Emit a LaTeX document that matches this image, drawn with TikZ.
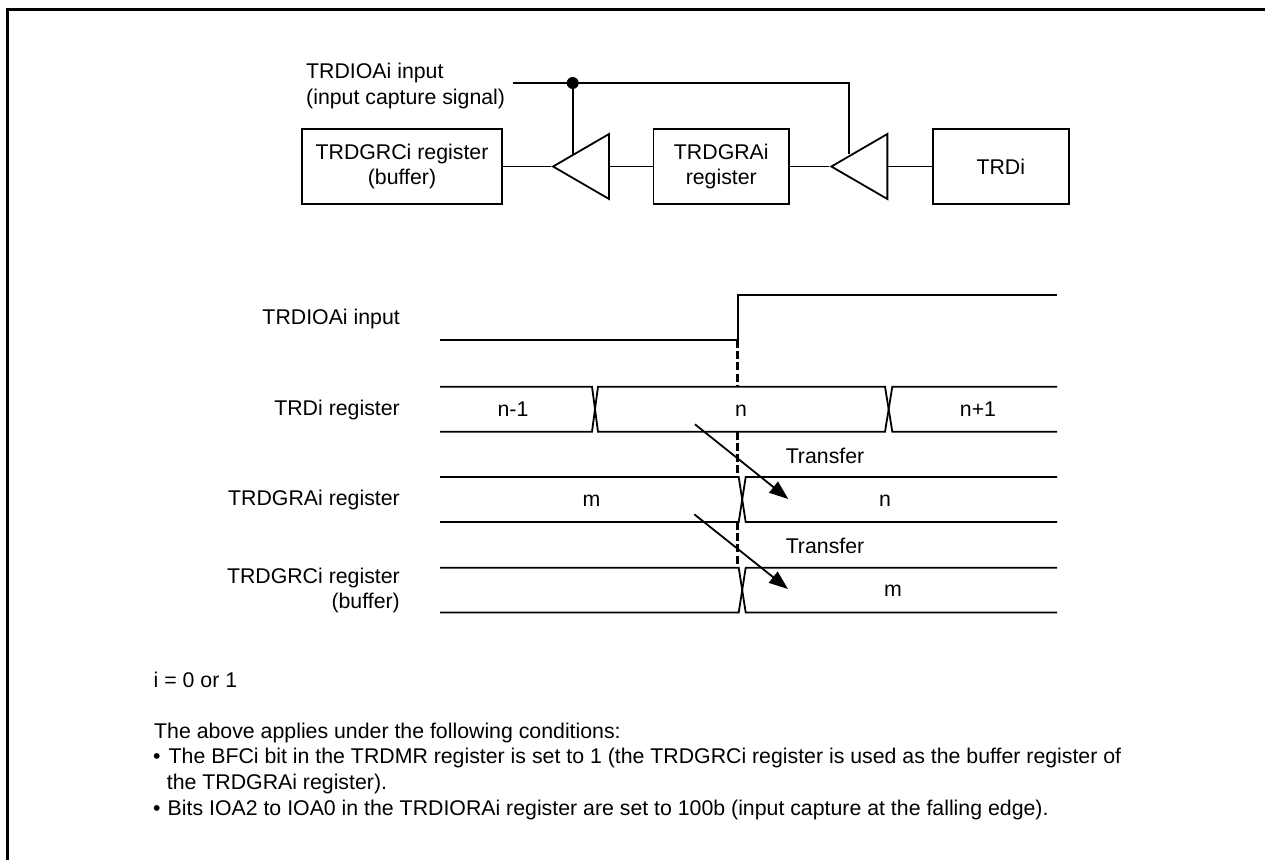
\documentclass[tikz,border=0pt]{standalone}
\usepackage{fontspec}
\setmainfont{Liberation Sans}
\usetikzlibrary{arrows.meta,shapes.geometric}
\tikzset{
  ln/.style={line width=1.8pt,line join=miter},
  regbox/.style={draw,line width=1.8pt,minimum height=75pt,inner sep=0pt,align=center,fill=white},
  buf/.style={draw,line width=1.8pt,fill=white,isosceles triangle,isosceles triangle stretches,shape border rotate=180,minimum width=65pt,minimum height=56pt,inner sep=0pt,anchor=apex},
  txt/.style={inner sep=0pt,anchor=base west},
  rtxt/.style={inner sep=0pt,anchor=base east,align=right},
  ctr/.style={inner sep=0pt,anchor=base},
  dsh/.style={line width=3pt,dash pattern=on 8pt off 3.2pt},
  xfer/.style={line width=1.8pt,-{Triangle[length=19pt,width=14pt]}},
}
\begin{document}
\begin{tikzpicture}[x=1pt,y=-1pt,font=\fontsize{21.3pt}{25.5pt}\selectfont]
\useasboundingbox (0,0) rectangle (1265,860);
\coordinate (fa) at (7.5,860);
\coordinate (fb) at (7.5,9.5);
\coordinate (fc) at (1265,9.5);
\draw[line width=3pt,line join=miter] (fa) -- (fb) -- (fc);
% block diagram
\node[regbox,minimum width=200pt] (crc) at (402,166.5) {TRDGRCi register\\(buffer)};
\node[regbox,minimum width=135.5pt] (gra) at (721.3,166.5) {TRDGRAi\\register};
\node[regbox,minimum width=136pt] (trd) at (1000.8,166.5) {TRDi};
\node[buf] (t1) at (550.7,166.5) {};
\node[buf] (t2) at (829,166.5) {};
\draw[ln] (crc.east) -- (t1.apex);
\draw[ln] (t1.lower side) -- (gra.west);
\draw[ln] (gra.east) -- (t2.apex);
\draw[ln] (t2.lower side) -- (trd.west);
\node[txt] (inlab1) at (306,78.3) {TRDIOAi input};
\node[txt] (inlab2) at (306,104) {(input capture signal)};
\coordinate (ins) at (512.7,83);
\coordinate (inc) at (849.3,83);
\coordinate (t1in) at (572.7,153.5);
\coordinate (t2in) at (849.3,153.5);
\node[circle,fill=black,inner sep=0pt,minimum size=12pt] (dot) at (572.7,83) {};
\draw[ln] (ins) -- (inc) -- (t2in);
\draw[ln] (dot) -- (t1in);
% timing rows
\node[rtxt] (l1) at (400,324) {TRDIOAi input};
\node[rtxt] (l2) at (400,415.5) {TRDi register};
\node[rtxt] (l3) at (400,505.5) {TRDGRAi register};
\node[rtxt] (l4) at (400,583.3) {TRDGRCi register};
\node[rtxt] (l5) at (400,608.5) {(buffer)};
% TRDIOA wave
\coordinate (w0) at (440,340);
\coordinate (w1) at (737.7,340);
\coordinate (w2) at (737.7,294.7);
\coordinate (w3) at (1057,294.7);
\draw[ln] (w0) -- (w1) -- (w2) -- (w3);
% TRDi bus
\coordinate (a0) at (440,386.7); \coordinate (a1) at (592,386.7); \coordinate (a2) at (598,386.7);
\coordinate (a3) at (885,386.7); \coordinate (a4) at (892.3,386.7); \coordinate (a5) at (1057,386.7);
\coordinate (b0) at (440,431.7); \coordinate (b1) at (592,431.7); \coordinate (b2) at (598,431.7);
\coordinate (b3) at (885,431.7); \coordinate (b4) at (892.3,431.7); \coordinate (b5) at (1057,431.7);
\draw[ln] (a0) -- (a1) -- (b2) -- (b3) -- (a4) -- (a5);
\draw[ln] (b0) -- (b1) -- (a2) -- (a3) -- (b4) -- (b5);
% TRDGRA bus
\coordinate (c0) at (440,477); \coordinate (c1) at (738.7,477); \coordinate (c2) at (745.7,477); \coordinate (c3) at (1057,477);
\coordinate (d0) at (440,522); \coordinate (d1) at (738.7,522); \coordinate (d2) at (745.7,522); \coordinate (d3) at (1057,522);
\draw[ln] (c0) -- (c1) -- (d2) -- (d3);
\draw[ln] (d0) -- (d1) -- (c2) -- (c3);
% TRDGRC bus
\coordinate (e0) at (440,567.7); \coordinate (e1) at (738.7,567.7); \coordinate (e2) at (745.7,567.7); \coordinate (e3) at (1057,567.7);
\coordinate (f0) at (440,612.5); \coordinate (f1) at (738.7,612.5); \coordinate (f2) at (745.7,612.5); \coordinate (f3) at (1057,612.5);
\draw[ln] (e0) -- (e1) -- (f2) -- (f3);
\draw[ln] (f0) -- (f1) -- (e2) -- (e3);
% dashed guide
\coordinate (g1) at (737.7,386.7); \coordinate (g2) at (737.7,431.7);
\coordinate (g3) at (737.7,477); \coordinate (g4) at (737.7,522); \coordinate (g5) at (737.7,567.7);
\draw[dsh] (w1) -- (g1);
\draw[dsh] (g2) -- (g3);
\draw[dsh] (g4) -- (g5);
% values
\node[ctr] (v1) at (513,416) {n-1};
\node[ctr] (v2) at (741,416) {n};
\node[ctr] (v3) at (978,416) {n+1};
\node[ctr] (v4) at (591.5,506) {m};
\node[ctr] (v5) at (885,506) {n};
\node[ctr] (v6) at (893,596) {m};
\node[ctr] (t1lab) at (825,463) {Transfer};
\node[ctr] (t2lab) at (825,553) {Transfer};
% transfer arrows
\coordinate (p1) at (695,424.3); \coordinate (q1) at (788.3,499);
\coordinate (p2) at (694.3,514.3); \coordinate (q2) at (788,589);
\draw[xfer] (p1) -- (q1);
\draw[xfer] (p2) -- (q2);
% notes
\node[txt] (n1) at (153.5,687.7) {i = 0 or 1};
\node[txt] (n2) at (154,738.2) {The above applies under the following conditions:};
\node[txt] (b3) at (153,763.3) {•};
\node[txt] (n3) at (168.5,763.3) {The BFCi bit in the TRDMR register is set to 1 (the TRDGRCi register is used as the buffer register of};
\node[txt] (n4) at (166.7,789) {the TRDGRAi register).};
\node[txt] (b5) at (153,815) {•};
\node[txt] (n5) at (167.5,815) {Bits IOA2 to IOA0 in the TRDIORAi register are set to 100b (input capture at the falling edge).};
\end{tikzpicture}
\end{document}
